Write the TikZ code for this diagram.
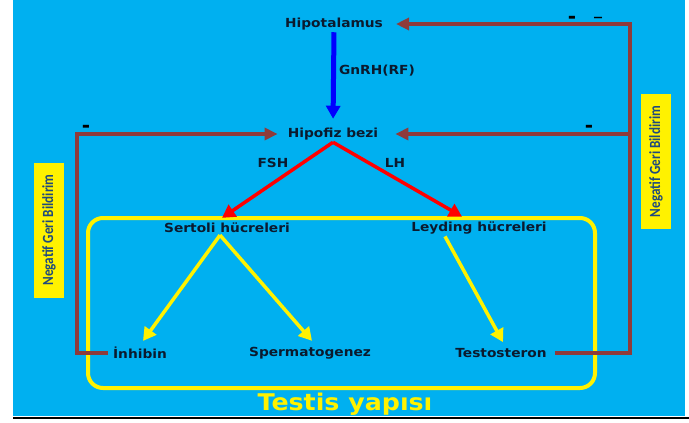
\documentclass[tikz,border=0pt]{standalone}
\usepackage{fontspec}
\setmainfont{DejaVu Sans}
\newfontfamily\lblf{DejaVu Sans}[FakeStretch=1.1]
\newfontfamily\bigf{DejaVu Sans}[FakeStretch=1.1]
\newfontfamily\narrowf{Carlito}[FakeStretch=0.85]
\usetikzlibrary{arrows.meta,calc}
\definecolor{bgblue}{HTML}{00B0F0}
\definecolor{fbbrown}{HTML}{8E3B3B}
\definecolor{lblc}{HTML}{0B1A2E}
\definecolor{negc}{HTML}{1F497D}
\begin{document}
\begin{tikzpicture}[x=1pt,y=-1pt,
  lbl/.style={font=\lblf\bfseries\fontsize{12.5}{14}\selectfont, text=lblc, inner sep=1pt},
  minus/.style={font=\bfseries\fontsize{20}{20}\selectfont, text=black, inner sep=0pt},
  negbox/.style={fill=yellow, minimum width=30pt, minimum height=135pt, inner sep=0pt},
  negtext/.style={font=\narrowf\bfseries\fontsize{15.5}{15.5}\selectfont, text=negc, rotate=90, inner sep=0pt},
  tip/.style={-{Triangle[length=13pt,width=14pt]}},
  bluearr/.style={tip, draw=blue, line width=5pt, shorten <=1pt, shorten >=8pt},
  redarr/.style={tip, draw=red, line width=3.5pt},
  yelarr/.style={tip, draw=yellow, line width=3.5pt},
  fbline/.style={draw=fbbrown, line width=3.5pt},
  fbarr/.style={fbline, -{Triangle[length=13pt,width=12pt]}}
]
\useasboundingbox (0,0) rectangle (689,423);
\fill[white] (0,0) rectangle (689,423);
\fill[bgblue] (13,0) rectangle (685,416);
\draw[black, line width=2pt] (13,418) -- (689,418);

% testis frame
\draw[yellow, line width=4pt, rounded corners=15pt] (88,218) rectangle (595,388);

% nodes
\node[lbl] (hip) at (334,24) {Hipotalamus};
\node[lbl] (hpf) at (333,134) {Hipofiz bezi};
\node[lbl] (gn) at (377,71) {GnRH(RF)};
\node[lbl] (fsh) at (273,163) {FSH};
\node[lbl] (lh) at (395,163) {LH};
\node[lbl] (ser) at (227,228) {Sertoli hücreleri};
\node[lbl] (ley) at (479,228) {Leyding hücreleri};
\node[lbl] (inh) at (140,353) {İnhibin};
\node[lbl] (spe) at (310,353) {Spermatogenez};
\node[lbl] (tes) at (501,353) {Testosteron};
\node[font=\bigf\bfseries\fontsize{23}{23}\selectfont, text=yellow, inner sep=0pt] (tys) at (345,404) {Testis yapısı};

% minus signs
\node[minus] (m1) at (86,129) {-};
\node[minus] (m2) at (572,20) {-};
\node[minus, font=\fontsize{20}{20}\selectfont] (m3) at (598,20) {–};
\node[minus] (m4) at (589,129) {-};

% negatif geri bildirim boxes
\node[negbox] (nbl) at (49,230) {};
\node[negtext] (ntl) at (nbl.center) {Negatif Geri Bildirim};
\node[negbox] (nbr) at (656,161.5) {};
\node[negtext] (ntr) at (nbr.center) {Negatif Geri Bildirim};

% coordinates for feedback loops
\coordinate (lx) at (77,0);
\coordinate (rx) at (630,0);

% arrows
\draw[bluearr] (hip.south) -- (hpf.north);
\draw[redarr] ([yshift=-1pt]hpf.south) -- ([xshift=-5pt,yshift=4pt]ser.north);
\draw[redarr] ([yshift=-1pt]hpf.south) -- ([xshift=-17pt,yshift=4pt]ley.north);
\draw[yelarr] ([xshift=-7pt,yshift=-1pt]ser.south) -- ([xshift=3pt,yshift=5pt]inh.north);
\draw[yelarr] ([xshift=-7pt,yshift=-1pt]ser.south) -- ([xshift=2pt,yshift=5pt]spe.north);
\draw[yelarr] ([xshift=-34pt,yshift=-1pt]ley.south) -- ([xshift=2pt,yshift=5pt]tes.north);

% feedback
\draw[fbarr, shorten <=4pt, shorten >=9pt] (inh.west) -- (inh.west -| lx) |- (hpf.west);
\draw[fbarr, shorten <=7pt, shorten >=12pt] (tes.east) -- (tes.east -| rx) |- (hip.east);
\draw[fbarr, shorten >=16pt] (rx |- hpf.east) -- (hpf.east);
\end{tikzpicture}
\end{document}
